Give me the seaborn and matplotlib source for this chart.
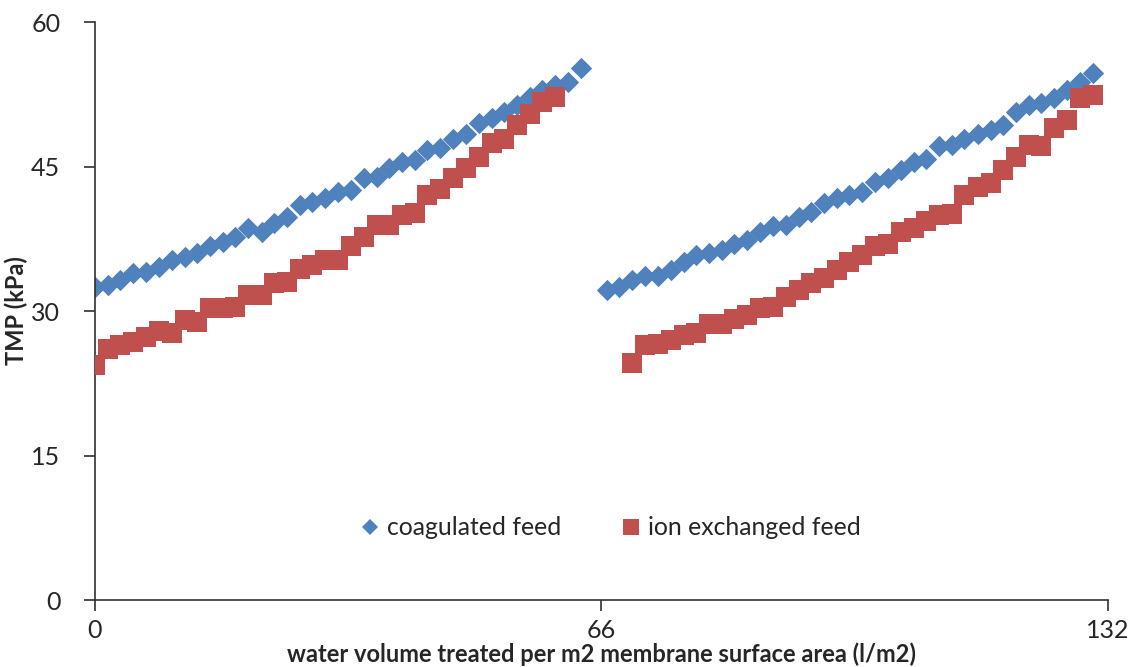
import pandas as pd
import numpy as np
import seaborn as sns
import matplotlib.pyplot as plt
from matplotlib.lines import Line2D

# water volume treated per m2 (l/m2), first and second run
vol_run1 = [0, 1.7, 3.3, 5.0, 6.7, 8.3, 10.0, 11.7, 13.3, 15.0, 16.7, 18.3, 20.0,
            21.7, 23.3, 25.0, 26.7, 28.3, 30.0, 31.7, 33.3, 35.0, 36.7, 38.3, 40.0,
            41.7, 43.3, 45.0, 46.7, 48.3, 50.0, 51.7, 53.3, 55.0, 56.7, 58.3, 60.0,
            61.7, 63.3]
vol_run2 = [66.7, 68.3, 70.0, 71.7, 73.3, 75.0, 76.7, 78.3, 80.0, 81.7, 83.3, 85.0,
            86.7, 88.3, 90.0, 91.7, 93.3, 95.0, 96.7, 98.3, 100.0, 101.7, 103.3, 105.0,
            106.7, 108.3, 110.0, 111.7, 113.3, 115.0, 116.7, 118.3, 120.0, 121.7, 123.3,
            125.0, 126.7, 128.3, 130.0]

# TMP (kPa)
coag_run1 = [32.5, 32.7, 33.2, 33.9, 34.0, 34.6, 35.3, 35.6, 36.0, 36.7, 37.2, 37.7,
             38.6, 38.2, 39.1, 39.8, 41.0, 41.3, 41.7, 42.4, 42.6, 43.8, 43.9, 44.8,
             45.5, 45.7, 46.7, 46.9, 47.9, 48.4, 49.5, 50.0, 50.7, 51.4, 52.2, 52.9,
             53.5, 53.8, 55.2]
ion_run1 = [24.4, 26.1, 26.5, 26.8, 27.3, 27.9, 27.7, 29.1, 28.9, 30.3, 30.3, 30.4,
            31.7, 31.7, 32.9, 33.0, 34.4, 34.8, 35.3, 35.3, 36.7, 37.7, 38.9, 38.9,
            40.0, 40.2, 42.0, 42.7, 43.8, 44.8, 46.0, 47.4, 47.9, 49.3, 50.5, 51.7,
            52.2]
coag_run2 = [32.2, 32.5, 33.2, 33.6, 33.6, 34.3, 35.1, 35.8, 36.0, 36.3, 37.0, 37.4,
             38.2, 38.8, 38.9, 39.8, 40.3, 41.2, 41.7, 42.0, 42.4, 43.4, 43.8, 44.6,
             45.5, 45.8, 47.1, 47.2, 47.9, 48.4, 48.8, 49.3, 50.7, 51.4, 51.6, 52.1,
             52.9, 53.8, 54.7]
ion_run2 = [24.6, 26.5, 26.6, 27.0, 27.5, 27.7, 28.7, 28.7, 29.2, 29.6, 30.3, 30.4,
            31.5, 32.2, 32.9, 33.4, 34.3, 35.1, 35.8, 36.7, 37.0, 38.2, 38.6, 39.3,
            40.0, 40.1, 42.0, 42.9, 43.3, 44.6, 46.0, 47.2, 47.1, 49.0, 49.8, 52.1,
            52.4]

x_ticks = [0, 66, 132]
y_ticks = [0, 15, 30, 45, 60]

blue = '#4F81BD'
red = '#C0504D'

coag = pd.DataFrame({'volume': vol_run1 + vol_run2, 'tmp': coag_run1 + coag_run2})
ion = pd.DataFrame({'volume': vol_run1[:len(ion_run1)] + vol_run2[-len(ion_run2):],
                    'tmp': ion_run1 + ion_run2})

sns.set_style('white')
plt.rcParams['font.family'] = ['Lato', 'DejaVu Sans']

fig = plt.figure(figsize=(11.35, 6.67), dpi=100)
ax = fig.add_axes([0.0837, 0.1004, 0.8925, 0.8666])

sns.scatterplot(data=coag, x='volume', y='tmp', marker='D', s=118, color=blue,
                linewidth=0, ax=ax, zorder=2)
sns.scatterplot(data=ion, x='volume', y='tmp', marker='s', s=225, color=red,
                linewidth=0, ax=ax, zorder=3)

ax.set_xlim(0, 132)
ax.set_ylim(0, 60)
ax.set_xticks(x_ticks)
ax.set_yticks(y_ticks)
ax.tick_params(axis='both', direction='out', length=8, width=1.2, color='#303030',
               labelsize=18, labelcolor='#262626')
ax.tick_params(axis='x', pad=6)
ax.tick_params(axis='y', pad=17)
ax.xaxis.set_ticks_position('bottom')
ax.yaxis.set_ticks_position('left')

for side in ['top', 'right']:
    ax.spines[side].set_visible(False)
for side in ['left', 'bottom']:
    ax.spines[side].set_color('#303030')
    ax.spines[side].set_linewidth(1.2)

ax.set_xlabel('water volume treated per m2 membrane surface area (l/m2)',
              fontsize=17, fontweight='bold', labelpad=0)
ax.set_ylabel('TMP (kPa)', fontsize=17, fontweight='bold', labelpad=2)

handles = [Line2D([], [], marker='D', color=blue, linestyle='', markersize=8, markeredgewidth=0),
           Line2D([], [], marker='s', color=red, linestyle='', markersize=12, markeredgewidth=0)]
ax.legend(handles, ['coagulated feed', 'ion exchanged feed'], loc='center',
          bbox_to_anchor=(0.509, 0.125), ncol=2, frameon=False, fontsize=17.8,
          handlelength=0.8, handletextpad=0.3, columnspacing=2.4)

plt.savefig('out.png', dpi=100)
